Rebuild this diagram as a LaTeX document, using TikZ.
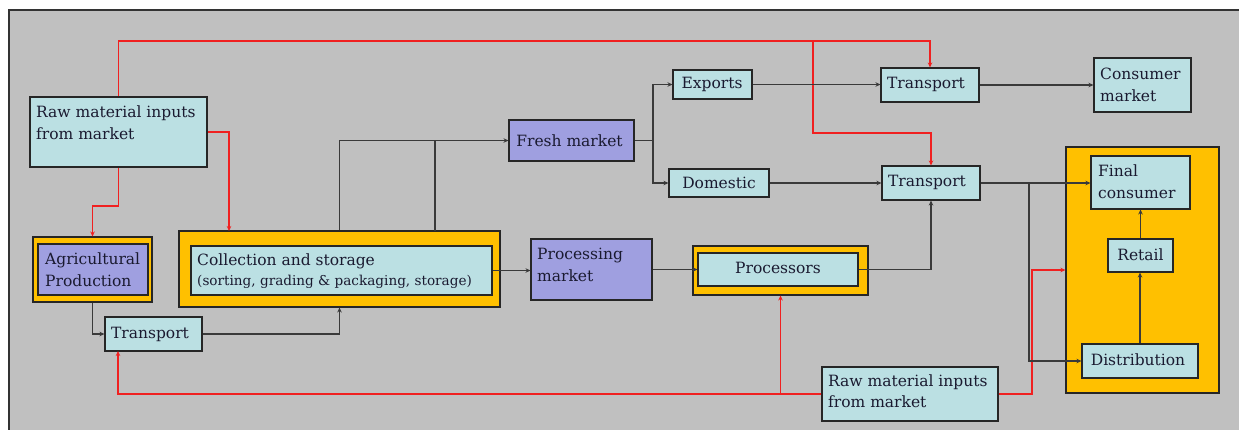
\documentclass[tikz,border=0pt]{standalone}
\usepackage{fontspec}
\setmainfont{DejaVu Serif}
\usetikzlibrary{arrows.meta}
\definecolor{bggray}{HTML}{C0C0C0}
\definecolor{lblue}{HTML}{BBE0E3}
\definecolor{lpurple}{HTML}{9F9FE0}
\definecolor{lyellow}{HTML}{FFC000}
\definecolor{redline}{HTML}{F02020}
\definecolor{darkline}{HTML}{3A3A3A}
\definecolor{txt}{HTML}{1A1A30}
\tikzset{
  box/.style={draw=black!85, line width=1.1pt, inner sep=0pt},
  bluebox/.style={box, fill=lblue},
  purplebox/.style={box, fill=lpurple},
  yellowbox/.style={box, fill=lyellow},
  lbl/.style={inner sep=0pt, text=txt, font=\fontsize{15.5}{21.5}\selectfont},
  lbltl/.style={lbl, align=left, anchor=north west},
  tip/.style={-{Stealth[length=5pt,width=4.5pt]}},
  redc/.style={draw=redline, line width=1.1pt},
  darkc/.style={draw=darkline, line width=1.1pt},
}
\begin{document}
\begin{tikzpicture}[x=1pt,y=-1pt]
\useasboundingbox (0,0) rectangle (1239,429);
\fill[white] (0,0) rectangle (1239,429);
\fill[bggray] (9,10) rectangle (1260,450);
\draw[black!80, line width=1.6pt] (9,450) -- (9,10) -- (1260,10);

% boxes
\node[bluebox, minimum width=177pt, minimum height=70pt] (raw1) at (118.5,132) {};
\node[lbltl] (raw1t) at (36,106) {Raw material inputs\\from market};

\node[yellowbox, minimum width=119pt, minimum height=65pt] (agriO) at (92.5,269.5) {};
\node[purplebox, minimum width=110pt, minimum height=51pt] (agriI) at (93,269.5) {};
\node[lbl, align=left, anchor=west] (agrit) at (45,269.5) {Agricultural\\Production};

\node[yellowbox, minimum width=321pt, minimum height=76pt] (collO) at (339.5,269) {};
\node[bluebox, minimum width=301pt, minimum height=49pt] (collI) at (341.5,270.5) {};
\node[lbl, align=left, anchor=west] (collt) at (197,271) {Collection and storage\\[-2pt]{\fontsize{13.6}{18}\selectfont (sorting, grading \& packaging, storage)}};

\node[bluebox, minimum width=97pt, minimum height=34pt] (trans1) at (153.5,334) {};
\node[lbl] (trans1t) at (150,334) {Transport};

\node[purplebox, minimum width=125pt, minimum height=41pt] (fresh) at (571.5,140.5) {};
\node[lbl] (fresht) at (569.5,140.5) {Fresh market};

\node[bluebox, minimum width=79pt, minimum height=29pt] (exports) at (712.5,84.5) {};
\node[lbl] (exportst) at (712,84.5) {Exports};

\node[bluebox, minimum width=100pt, minimum height=28pt] (domestic) at (719,183) {};
\node[lbl] (domestict) at (719,183) {Domestic};

\node[bluebox, minimum width=98pt, minimum height=34pt] (transA) at (930,85) {};
\node[lbl] (transAt) at (926,84) {Transport};

\node[bluebox, minimum width=98pt, minimum height=34pt] (transB) at (931,183) {};
\node[lbl] (transBt) at (927,182) {Transport};

\node[bluebox, minimum width=97pt, minimum height=54pt] (consumer) at (1142.5,85) {};
\node[lbltl] (consumert) at (1100,68) {Consumer\\market};

\node[purplebox, minimum width=121pt, minimum height=61pt] (procm) at (591.5,269.5) {};
\node[lbltl] (procmt) at (537,248) {Processing\\market};

\node[yellowbox, minimum width=175pt, minimum height=49pt] (procsO) at (780.5,270.5) {};
\node[bluebox, minimum width=160pt, minimum height=33pt] (procsI) at (778,269.5) {};
\node[lbl] (procst) at (778,268) {Processors};

\node[bluebox, minimum width=176pt, minimum height=54pt] (raw2) at (910,394) {};
\node[lbltl] (raw2t) at (828,374.5) {Raw material inputs\\from market};

\node[yellowbox, minimum width=153pt, minimum height=246pt] (big) at (1142.5,270) {};
\node[bluebox, minimum width=99pt, minimum height=53pt] (final) at (1140.5,182.5) {};
\node[lbltl] (finalt) at (1098,165) {Final\\consumer};
\node[bluebox, minimum width=65pt, minimum height=33pt] (retail) at (1140.5,255.5) {};
\node[lbl] (retailt) at (1140.5,255) {Retail};
\node[bluebox, minimum width=116pt, minimum height=34pt] (distr) at (1140,361) {};
\node[lbl] (distrt) at (1138,360) {Distribution};

% helper coordinates
\coordinate (rt) at (813,41);
\coordinate (rb) at (813,133);
\coordinate (collIn) at (229,231);
\coordinate (r3) at (118.5,206);
\coordinate (t1in) at (118,351);
\coordinate (r4) at (780.5,394);
\coordinate (r5) at (1032,394);
\coordinate (c8) at (435,231);
\coordinate (f1) at (653,140.5);
\coordinate (f2) at (1029,183);

% red connectors
\draw[redc, tip] (raw1.north) |- (rt) -| (transA.north);
\draw[redc, tip] (rt) -- (rb) -| (transB.north);
\draw[redc, tip] (raw1.east) -| (collIn);
\draw[redc, tip] (raw1.south) -- (r3) -| (agriO.north);
\draw[redc, tip] (raw2.west) -| (t1in);
\draw[redc, tip] (r4) -- (procsO.south);
\draw[redc, tip] (raw2.east) -- (r5) |- (big.west);

% dark connectors
\draw[darkc, tip] (agriO.south) |- (trans1.west);
\draw[darkc, tip] (trans1.east) -| (collO.south);
\draw[darkc, tip] (collO.north) |- (fresh.west);
\draw[darkc] (c8) |- (fresh.west);
\draw[darkc, tip] (collI.east) -- (collI.east -| procm.west);
\draw[darkc, tip] (procm.east) -- (procsI.west);
\draw[darkc] (fresh.east) -- (f1);
\draw[darkc, tip] (f1) |- (exports.west);
\draw[darkc, tip] (f1) |- (domestic.west);
\draw[darkc, tip] (exports.east) -- (exports.east -| transA.west);
\draw[darkc, tip] (domestic.east) -- (transB.west);
\draw[darkc, tip] (transA.east) -- (consumer.west);
\draw[darkc, tip] (procsI.east) -| (transB.south);
\draw[darkc, tip] (transB.east) -- (transB.east -| final.west);
\draw[darkc, tip] (f2) |- (distr.west);
\draw[darkc, tip] (distr.north) -- (distr.north |- retail.south);
\draw[darkc, tip] (retail.north) -- (final.south);
\end{tikzpicture}
\end{document}
